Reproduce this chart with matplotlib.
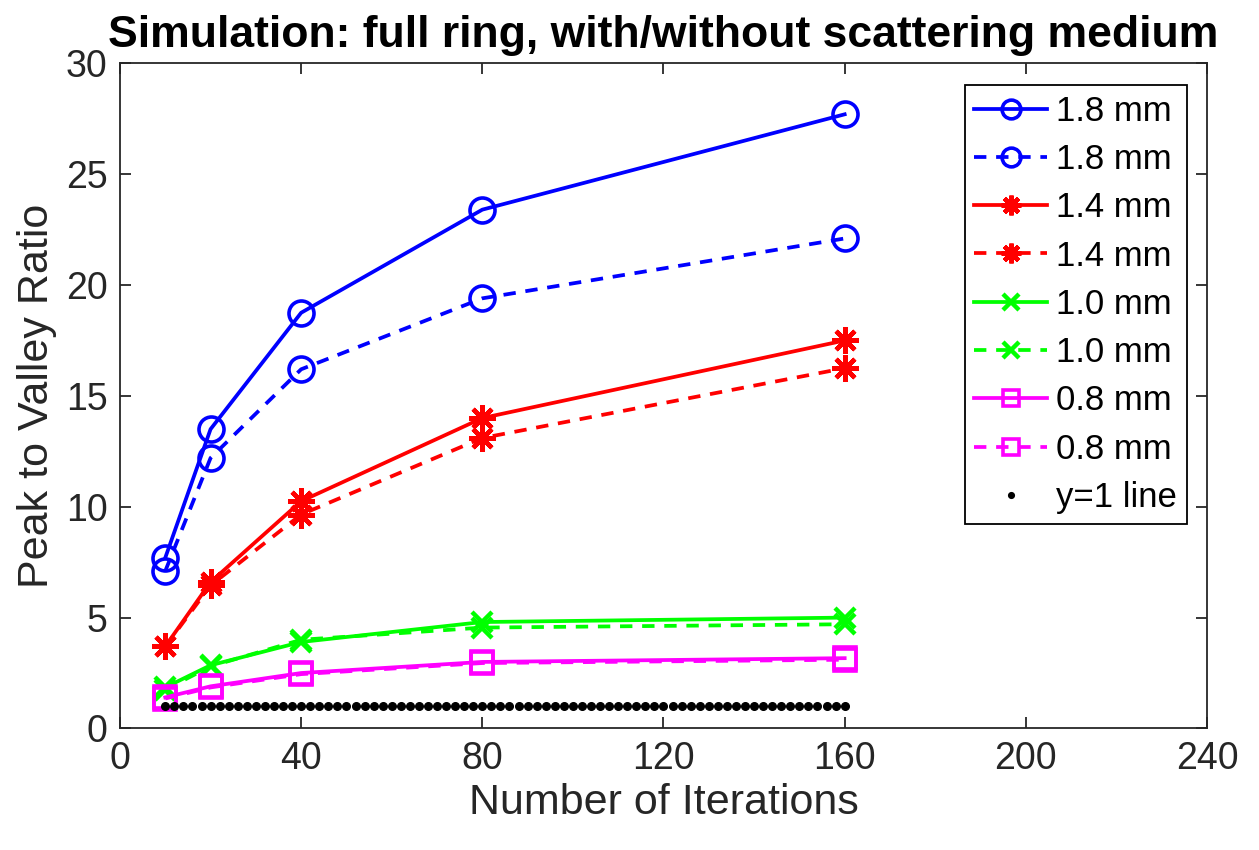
#!/usr/bin/env python3

import numpy as np
import matplotlib
matplotlib.use("Agg")
import matplotlib.pyplot as plt

plt.rcParams['font.family'] = ['Liberation Sans', 'DejaVu Sans']

# Data
iterations = [10, 20, 40, 80, 160]
r18_without = [7.7, 13.5, 18.75, 23.4, 27.7]
r18_with = [7.1, 12.2, 16.2, 19.4, 22.1]
r14_without = [3.7, 6.6, 10.25, 14.0, 17.5]
r14_with = [3.7, 6.45, 9.65, 13.1, 16.25]
r10_without = [1.85, 2.85, 3.9, 4.8, 5.0]
r10_with = [1.75, 2.8, 4.0, 4.55, 4.7]
r08_without = [1.4, 1.9, 2.5, 3.0, 3.17]
r08_with = [1.35, 1.85, 2.45, 2.95, 3.1]
ref_x = np.arange(10, 161, 2)
ref_y = np.ones(len(ref_x))

labels = ['1.8 mm', '1.8 mm', '1.4 mm', '1.4 mm',
          '1.0 mm', '1.0 mm', '0.8 mm', '0.8 mm', 'y=1 line']

fig = plt.figure(figsize=(12.59, 8.5), dpi=100)
ax = fig.add_axes([0.0953, 0.143, 0.8634, 0.7825])

lw = 2.7
dash = (3.3, 2.6)
ax.plot(iterations, r18_without, color='#0000ff', lw=lw, marker='o', ms=18,
        mfc='none', mew=2.6, label=labels[0])
ax.plot(iterations, r18_with, color='#0000ff', lw=lw, dashes=dash, marker='o', ms=18,
        mfc='none', mew=2.6, label=labels[1])
ax.plot(iterations, r14_without, color='#ff0000', lw=lw, marker=(8, 2, 0), ms=19,
        mew=3.2, label=labels[2])
ax.plot(iterations, r14_with, color='#ff0000', lw=lw, dashes=dash, marker=(8, 2, 0), ms=19,
        mew=3.2, label=labels[3])
ax.plot(iterations, r10_without, color='#00ff00', lw=lw, marker='x', ms=15,
        mew=3.2, label=labels[4])
ax.plot(iterations, r10_with, color='#00ff00', lw=lw, dashes=dash, marker='x', ms=15,
        mew=3.2, label=labels[5])
ax.plot(iterations, r08_without, color='#ff00ff', lw=lw, marker='s', ms=16,
        mfc='none', mew=2.6, label=labels[6])
ax.plot(iterations, r08_with, color='#ff00ff', lw=lw, dashes=dash, marker='s', ms=16,
        mfc='none', mew=2.6, label=labels[7])
ax.plot(ref_x, ref_y, color='black', ls='none', marker='o', ms=5.5, label=labels[8])

ax.set_xlim(0, 240)
ax.set_ylim(0, 30)
ax.set_xticks(np.arange(0, 241, 40))
ax.set_yticks(np.arange(0, 31, 5))

grey = '#262626'
for s in ax.spines.values():
    s.set_color(grey)
    s.set_linewidth(1.3)
ax.tick_params(direction='in', top=True, right=True, length=8, width=1.3,
               color=grey, labelcolor=grey, labelsize=27, pad=9)

ax.set_xlabel('Number of Iterations', fontsize=31, color=grey, labelpad=4)
ax.set_ylabel('Peak to Valley Ratio', fontsize=31, color=grey, labelpad=6)
ax.set_title('Simulation: full ring, with/without scattering medium',
             fontsize=32, fontweight='bold', pad=12)

leg = ax.legend(loc='upper right', bbox_to_anchor=(0.9816, 0.9674), fontsize=25,
                handlelength=2.1, handletextpad=0.26, labelspacing=0.44,
                borderpad=0.28, borderaxespad=0, fancybox=False, framealpha=1,
                edgecolor='black')
leg.get_frame().set_linewidth(1.3)
for h in leg.legend_handles:
    h.set_markersize(h.get_markersize() * 0.75)

fig.savefig('out.png', dpi=100)
